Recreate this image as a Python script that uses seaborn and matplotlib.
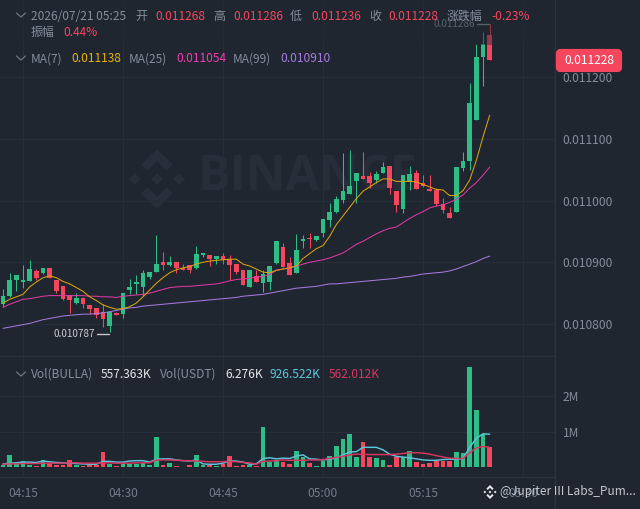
import numpy as np
import pandas as pd
import matplotlib
matplotlib.use('Agg')
import matplotlib.pyplot as plt
import seaborn as sns
from matplotlib.lines import Line2D
from matplotlib.patches import Polygon, Rectangle, FancyBboxPatch

########## DATA ##########
# prices in millionths, one candle per minute, minutes counted from 04:15
opens = [10832,10845,10871,10868,10870,10886,10882,10891,10871,10861,
         10847,10834,10842,10831,10826,10819,10796,10818,10816,10855,
         10865,10860,10876,10884,10901,10895,10901,10891,10896,10890,
         10911,10911,10906,10910,10906,10897,10887,10860,10877,10867,
         10868,10898,10924,10898,10883,10934,10940,10936,10948,10968,
         10981,11001,11011,11032,11039,11039,11033,11044,11056,11016,
         10987,11030,11044,11028,11018,11017,10994,10979,10982,11052,
         11064,11131,11233,11268]
highs = [10856,10882,10880,10895,10904,10889,10890,10891,10871,10861,
         10847,10850,10843,10831,10826,10832,10820,10820,10850,10873,
         10880,10888,10884,10944,10916,10910,10901,10897,10896,10926,
         10915,10911,10910,10915,10911,10897,10887,10887,10887,10887,
         10894,10934,10931,10908,10946,10944,10948,10942,10970,10996,
         11008,11077,11081,11045,11079,11046,11048,11063,11056,11016,
         11041,11056,11050,11041,11041,11021,11004,10989,11054,11079,
         11190,11253,11273,11286]
lows = [10828,10843,10853,10858,10870,10871,10881,10874,10850,10839,
        10818,10833,10826,10817,10809,10795,10787,10815,10809,10848,
        10849,10846,10873,10884,10888,10894,10883,10888,10883,10889,
        10908,10894,10897,10897,10871,10881,10863,10860,10868,10852,
        10855,10897,10893,10879,10883,10923,10923,10935,10941,10957,
        10979,10996,11011,10996,11035,11020,11029,11044,11011,10981,
        10979,11017,11019,11022,11015,10991,10979,10971,10982,11047,
        11049,11131,11186,11228]
closes = [10845,10872,10879,10871,10889,10875,10890,10875,10854,10840,
          10839,10842,10833,10825,10815,10808,10820,10815,10850,10860,
          10868,10882,10884,10897,10895,10901,10891,10888,10888,10913,
          10915,10906,10910,10904,10896,10884,10863,10887,10868,10881,
          10894,10934,10893,10879,10920,10937,10937,10942,10970,10982,
          11002,11015,11024,11045,11035,11029,11043,11054,11021,10993,
          11041,11043,11019,11023,11015,10994,10984,10971,11054,11064,
          11158,11233,11253,11228]

ma7 = [10834,10840,10844,10848,10860,10868,10875,10878,10875,10869,
       10865,10859,10853,10844,10838,10831,10827,10824,10825,10828,
       10834,10844,10855,10866,10875,10883,10888,10891,10893,10897,
       10900,10902,10903,10904,10905,10905,10897,10894,10889,10884,
       10883,10887,10889,10891,10894,10906,10914,10922,10927,10942,
       10961,10975,10989,11003,11015,11022,11029,11035,11035,11031,
       11031,11031,11030,11026,11022,11018,11017,11008,11008,11016,
       11033,11065,11103,11138]
ma25 = [10827,10832,10836,10840,10841,10843,10845,10846,10846,10846,
        10846,10846,10846,10845,10845,10844,10844,10843,10845,10846,
        10847,10848,10850,10853,10856,10859,10860,10861,10861,10862,
        10863,10864,10865,10867,10870,10872,10873,10874,10876,10877,
        10880,10887,10889,10891,10894,10897,10900,10902,10904,10907,
        10911,10915,10922,10929,10934,10940,10946,10951,10955,10957,
        10964,10971,10977,10982,10988,10991,10993,10997,11002,11009,
        11020,11029,11041,11054]
ma99 = [10793,10795,10797,10799,10801,10804,10807,10809,10811,10813,
        10814,10815,10816,10816,10817,10818,10820,10822,10824,10826,
        10827,10829,10830,10831,10832,10833,10834,10835,10836,10837,
        10838,10839,10840,10841,10842,10843,10845,10846,10847,10848,
        10850,10852,10854,10856,10858,10859,10860,10861,10863,10865,
        10865,10866,10867,10868,10869,10870,10871,10872,10873,10874,
        10876,10877,10879,10881,10882,10883,10884,10886,10889,10893,
        10897,10901,10906,10910]

# volume in millions
volumes = [.083,.35,.12,.185,.083,.046,.2,.12,.083,.065,
           .21,.083,.046,.065,.065,.435,.10,.046,.10,.10,
           .10,.12,.083,.85,.065,.12,.046,.02,.065,.34,
           .065,.065,.055,.10,.32,.055,.065,.08,.037,1.13,
           .157,.167,.157,.11,.46,.30,.13,.046,.185,.32,
           .60,.80,.92,.30,.72,.30,.27,.20,.083,.29,
           .30,.46,.14,.09,.13,.176,.19,.176,.435,.39,
           2.79,1.60,.935,.557]
vol_ma_a = [.10,.12,.13,.15,.15,.14,.18,.16,.14,.13,
            .12,.11,.10,.09,.09,.17,.17,.15,.15,.18,
            .19,.19,.15,.23,.24,.24,.21,.19,.18,.21,
            .10,.09,.09,.12,.18,.18,.15,.09,.10,.25,
            .27,.24,.26,.25,.32,.35,.24,.23,.21,.23,
            .26,.35,.43,.44,.56,.56,.56,.49,.37,.31,
            .29,.27,.24,.21,.20,.20,.22,.23,.23,.25,
            .56,.81,.935,.926]
vol_ma_b = [.09,.10,.10,.11,.11,.11,.12,.12,.12,.12,
            .13,.13,.12,.12,.12,.13,.13,.12,.12,.12,
            .13,.13,.13,.21,.21,.21,.20,.19,.19,.18,
            .17,.16,.16,.16,.17,.16,.14,.13,.09,.17,
            .18,.19,.21,.20,.20,.20,.21,.21,.22,.25,
            .28,.31,.35,.37,.37,.36,.36,.36,.36,.37,
            .39,.41,.41,.40,.37,.33,.29,.26,.25,.25,
            .41,.54,.583,.562]

first_minute = -3
time_ticks = [0, 15, 30, 45, 60, 75]
time_labels = ['04:15', '04:30', '04:45', '05:00', '05:15', '05:30']
price_ticks = [10800, 10900, 11000, 11100, 11200]
price_labels = ['0.010800', '0.010900', '0.011000', '0.011100', '0.011200']
vol_ticks = [1, 2]
vol_labels = ['1M', '2M']
##########################

BG = '#1f2630'
GRID = '#272e39'
EDGE = '#2c333e'
MUTED = '#848e9c'
GREEN = '#2ebd85'
RED = '#f6465d'
YELLOW = '#dca80c'
MAGENTA = '#e23aa6'
PURPLE = '#a67ce0'
CYAN = '#5ec6dc'
PINK = '#d8355f'
W, H = 640, 509

sns.set_theme(style='dark')
plt.rcParams['font.family'] = ['Noto Sans CJK SC', 'DejaVu Sans']

minutes = np.arange(len(opens)) + first_minute
df = pd.DataFrame({'minute': minutes, 'open': opens, 'high': highs, 'low': lows, 'close': closes,
                   'ma7': ma7, 'ma25': ma25, 'ma99': ma99,
                   'vol': volumes, 'vol_a': vol_ma_a, 'vol_b': vol_ma_b})
df['side'] = np.where(df['close'] >= df['open'], 'up', 'down')
colors = df['side'].map({'up': GREEN, 'down': RED})

fig = plt.figure(figsize=(W / 100, H / 100), dpi=100, facecolor=BG)

# pixel helpers, y measured from the top of the picture
def fx(x):
    return x / W

def fy(y):
    return 1 - y / H

def label(x, y, s, color=MUTED, size=8.6, **kw):
    kw.setdefault('va', 'center')
    fig.text(fx(x), fy(y), s, color=color, fontsize=size, **kw)

def chevron(y):
    fig.add_artist(Line2D([fx(16.5), fx(21), fx(25.5)], [fy(y - 2), fy(y + 2), fy(y - 2)],
                          color='#6d7683', lw=0.9))

def logo(ax, cx, cy, r, color):
    # Binance mark: centre and side diamonds plus top and bottom chevrons
    def poly(points):
        xy = [(fx(cx + a * r), fy(cy + b * r)) for a, b in points]
        ax.add_patch(Polygon(xy, closed=True, facecolor=color, edgecolor='none',
                             transform=fig.transFigure, zorder=0.5, clip_on=False))
    diamond = [(0, -.2), (.2, 0), (0, .2), (-.2, 0)]
    for dx, dy in [(0, 0), (-.74, 0), (.74, 0)]:
        poly([(a + dx, b + dy) for a, b in diamond])
    poly([(0, -1), (.52, -.48), (.32, -.28), (0, -.6), (-.32, -.28), (-.52, -.48)])
    poly([(0, 1), (.52, .48), (.32, .28), (0, .6), (-.32, .28), (-.52, .48)])

ax = fig.add_axes([0, fy(356), fx(555), (356) / H])
ax_vol = fig.add_axes([0, fy(477), fx(555), (477 - 357) / H])
for a in (ax, ax_vol):
    a.set_facecolor(BG)
    a.grid(True, color=GRID, lw=0.8)
    a.set_axisbelow(True)
    for name, spine in a.spines.items():
        spine.set_visible(name in ('right', 'bottom'))
        spine.set_color(EDGE)
        spine.set_linewidth(1.0)

# Candles
ax.vlines(df['minute'], df['low'], df['high'], colors=colors, lw=0.75, zorder=2)
ax.bar(df['minute'], (df['close'] - df['open']).abs(), bottom=df[['open', 'close']].min(axis=1),
       width=0.72, color=colors, linewidth=0, zorder=3)

# Moving averages
for col, c in [('ma99', PURPLE), ('ma25', MAGENTA), ('ma7', YELLOW)]:
    sns.lineplot(data=df, x='minute', y=col, color=c, lw=0.72, ax=ax, zorder=4, estimator=None)

# Volume pane
sns.barplot(data=df, x='minute', y='vol', hue='side', palette={'up': GREEN, 'down': RED},
            native_scale=True, dodge=False, width=0.72, saturation=1, errorbar=None,
            legend=False, ax=ax_vol, zorder=3, linewidth=0, edgecolor='none')
sns.lineplot(data=df, x='minute', y='vol_a', color=CYAN, lw=1.05, ax=ax_vol, zorder=4, estimator=None)
sns.lineplot(data=df, x='minute', y='vol_b', color=PINK, lw=1.05, ax=ax_vol, zorder=5, estimator=None)

xlim = (-3.45, 79.8)
ax.set_xlim(xlim)
ax.set_ylim(10748.2, 11324.7)
ax.set_xticks(time_ticks)
ax.set_yticks(price_ticks, labels=price_labels)
ax.tick_params(axis='x', length=0, labelbottom=False)
ax.yaxis.tick_right()
ax.tick_params(axis='y', length=0, pad=5.5, labelsize=8.6, labelcolor=MUTED)
ax.set_xlabel('')
ax.set_ylabel('')

ax_vol.set_xlim(xlim)
ax_vol.set_ylim(-0.264, 3.07)
ax_vol.set_xticks(time_ticks, labels=time_labels)
ax_vol.set_yticks(vol_ticks, labels=vol_labels)
ax_vol.yaxis.tick_right()
ax_vol.tick_params(axis='y', length=0, pad=5.5, labelsize=8.6, labelcolor=MUTED)
ax_vol.tick_params(axis='x', length=0, pad=7, labelsize=8.6, labelcolor='#727b89')
ax_vol.set_xlabel('')
ax_vol.set_ylabel('')
for tick in ax.get_yticklabels() + ax_vol.get_yticklabels():
    tick.set_va('center_baseline')

# Watermark behind the candles
logo(ax, 157, 179, 30, '#282f3a')
ax.text(fx(198), fy(178), 'BINANCE', transform=fig.transFigure, color='#272e39', fontsize=35,
        fontweight='bold', family='Open Sans', va='center', zorder=0.5)

# High and low markers
ax.add_artist(Line2D([fx(477), fx(489)], [fy(24), fy(24)], transform=fig.transFigure, color='#8b929c', lw=1, zorder=6))
ax.add_artist(Line2D([fx(97), fx(109)], [fy(333.5), fy(333.5)], transform=fig.transFigure, color='#c3c7cd', lw=1, zorder=6))
ax.text(fx(53), fy(334), '0.010787', transform=fig.transFigure, color='#c8ccd2', fontsize=7.2, va='center', zorder=6)
ax.text(fx(433), fy(24), '0.011286', transform=fig.transFigure, color='#8b929c', fontsize=7.2, va='center', zorder=6)

# Header strip dims what runs under it
ax.add_patch(Rectangle((0, fy(45)), fx(555), 45 / H, transform=fig.transFigure, facecolor=BG,
                       alpha=0.45, edgecolor='none', zorder=7))

# Header rows
chevron(15)
label(31, 16.5, '2026/07/21 05:25')
for x, s in [(135, '开'), (213, '高'), (290, '低'), (369, '收'), (447, '涨跌幅')]:
    label(x, 16.5, s)
for x, s in [(155, '0.011268'), (233, '0.011286'), (311, '0.011236'), (388, '0.011228'), (491, '-0.23%')]:
    label(x, 16.5, s, RED)
label(31, 32.5, '振幅')
label(63, 32.5, '0.44%', RED)

chevron(58)
for x, s, c in [(31, 'MA(7)', MUTED), (71, '0.011138', '#eab308'), (129, 'MA(25)', MUTED),
                (176, '0.011054', '#ee3fb0'), (233, 'MA(99)', MUTED), (280, '0.010910', PURPLE)]:
    label(x, 59, s, c)

chevron(374)
for x, s, c in [(31, 'Vol(BULLA)', MUTED), (101, '557.363K', '#e4e7eb'), (160, 'Vol(USDT)', MUTED),
                (225, '6.276K', '#e4e7eb'), (270, '926.522K', CYAN), (329, '562.012K', PINK)]:
    label(x, 374, s, c)

# Last price tag
fig.add_artist(FancyBboxPatch((fx(558), fy(70)), fx(62), 19 / H, boxstyle='round,pad=0,rounding_size=0.004',
                              transform=fig.transFigure, facecolor=RED, edgecolor=RED, lw=3, mutation_aspect=1.2))
label(589, 60.5, '0.011228', 'white', ha='center')

# Bottom right attribution
logo(fig.add_axes([0, 0, 0.001, 0.001], frameon=False, xticks=[], yticks=[]), 490, 492, 7, '#e6e8eb')
label(500, 492, '@Jupiter III Labs_Pum...', '#c4c8ce')
fig.add_artist(Line2D([fx(555), fx(555)], [fy(477), 0], color=EDGE, lw=1))

plt.savefig('out.png', dpi=100, facecolor=BG)
